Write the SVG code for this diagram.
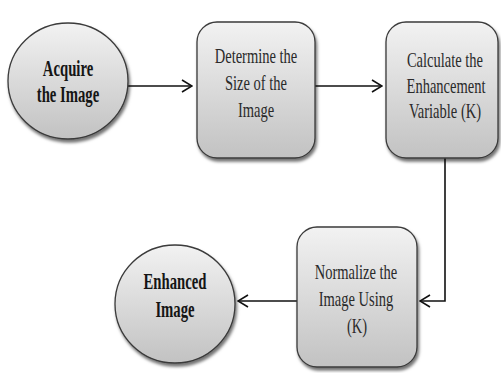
<svg xmlns="http://www.w3.org/2000/svg" width="501" height="373" viewBox="0 0 501 373">
<defs>
<linearGradient id="g" x1="0" y1="0" x2="0" y2="1">
<stop offset="0" stop-color="#f2f2f2"/>
<stop offset="1" stop-color="#c2c2c2"/>
</linearGradient>
<filter id="sh" x="-10%" y="-10%" width="125%" height="125%">
<feDropShadow dx="1.5" dy="3" stdDeviation="1.5" flood-color="#000" flood-opacity="0.55"/>
</filter>
<marker id="ah" markerWidth="12" markerHeight="14" refX="11" refY="7" orient="auto" markerUnits="userSpaceOnUse">
<path d="M1,1 L11,7 L1,13" fill="none" stroke="#111" stroke-width="1.6"/>
</marker>
</defs>
<style>
.shape{fill:url(#g);stroke:#3a3a3a;stroke-width:1.3;filter:url(#sh)}
.t{font-family:"Liberation Serif","Times New Roman",serif;font-size:22px;fill:#2a2a2a;text-anchor:middle}
.b{font-weight:bold;font-size:23px;fill:#151515}
.c{fill:none;stroke:#111;stroke-width:1.6}
</style>
<rect width="501" height="373" fill="#fff"/>
<g id="connectors">
<line class="c" x1="128" y1="86" x2="192" y2="86" marker-end="url(#ah)"/>
<line class="c" x1="315" y1="86" x2="382" y2="86" marker-end="url(#ah)"/>
<polyline class="c" points="445,158 445,301 420,301" marker-end="url(#ah)"/>
<line class="c" x1="297" y1="301" x2="238" y2="301" marker-end="url(#ah)"/>
</g>
<g id="acquire">
<ellipse class="shape" cx="68" cy="81" rx="60" ry="58"/>
<text class="t b" transform="translate(68,76) scale(0.64,1)">Acquire</text>
<text class="t b" transform="translate(68,102) scale(0.64,1)">the Image</text>
</g>
<g id="determine">
<rect class="shape" x="197" y="22" width="118" height="136" rx="20"/>
<text class="t" transform="translate(256,63) scale(0.66,1)">Determine the</text>
<text class="t" transform="translate(256,90) scale(0.66,1)">Size of the</text>
<text class="t" transform="translate(256,117) scale(0.66,1)">Image</text>
</g>
<g id="calculate">
<rect class="shape" x="386" y="22" width="112" height="136" rx="20"/>
<text class="t" transform="translate(445,67) scale(0.66,1)">Calculate the</text>
<text class="t" transform="translate(446,93) scale(0.66,1)">Enhancement</text>
<text class="t" transform="translate(445,118) scale(0.66,1)">Variable (K)</text>
</g>
<g id="normalize">
<rect class="shape" x="297" y="227" width="120" height="140" rx="20"/>
<text class="t" transform="translate(356,279) scale(0.66,1)">Normalize the</text>
<text class="t" transform="translate(356,306) scale(0.66,1)">Image Using</text>
<text class="t" transform="translate(357,333) scale(0.66,1)">(K)</text>
</g>
<g id="enhanced">
<ellipse class="shape" cx="175" cy="304" rx="60" ry="59"/>
<text class="t b" transform="translate(175,289) scale(0.64,1)">Enhanced</text>
<text class="t b" transform="translate(175,317) scale(0.64,1)">Image</text>
</g>
</svg>
